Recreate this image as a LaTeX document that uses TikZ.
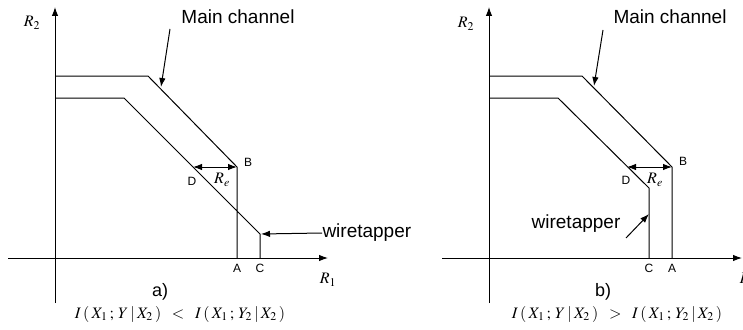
\documentclass[tikz,border=0pt]{standalone}
\usepackage{mathptmx}
\usepackage{fontspec}
\setmainfont{Liberation Sans}
\usetikzlibrary{arrows.meta}

\begin{document}
\begin{tikzpicture}[x=1pt,y=-1pt,line width=1pt,
  >={Latex[length=9pt,width=6.5pt]},
  pt/.style={font=\fontsize{12}{14}\selectfont,inner sep=0pt},
  txt/.style={font=\fontsize{19}{22}\selectfont,inner sep=0pt},
  sym/.style={font=\fontsize{16}{18}\selectfont,inner sep=0pt}]
\useasboundingbox (0,0) rectangle (743,329);

% case a
\scope
\coordinate (o)  at (55,258);
\coordinate (u1) at (55,76);  \coordinate (u2) at (148,76);
\coordinate (b)  at (237,167); \coordinate (a) at (237,258);
\coordinate (l1) at (55,98);  \coordinate (l2) at (124,98);
\coordinate (c1) at (260,234); \coordinate (c) at (260,258);
\coordinate (d)  at (193,167);
\draw[->] (55,303) -- (55,7);
\draw[->] (8,258) -- (328,258);
\draw (u1) -- (u2) -- (b) -- (a)
      (l1) -- (l2) -- (c1) -- (c);
\draw[<->] (d) -- (b);
\node[sym] at (32,23) {$R_2$};
\node[sym] at (328,280) {$R_1$};
\node[pt] at (248,162) {B};
\node[pt] at (192,181) {D};
\node[sym] at (222,180) {$R_e$};
\node[pt] at (237,268) {A};
\node[pt] at (260,268) {C};
\node[txt] (mc) at (238,17) {Main channel};
\coordinate (mct) at (170,29);
\draw[->] (mct) -- (161,87);
\node[txt,anchor=west] (wt) at (322,233) {wiretapper};
\draw[->] (wt.west) -- ([xshift=1pt]c1);
\node[txt,font=\fontsize{18}{20}\selectfont] at (160,292) {a)};
\node[sym] at (180,314) {$I\:(\:X_1\:;\:Y\:|\:X_2\:)\;\;<\;\;I\:(\:X_1\:;\:Y_2\:|\:X_2\:)$};
\endscope

% case b
\scope[xshift=434pt]
\coordinate (o)  at (55,258);
\coordinate (u1) at (55,76);  \coordinate (u2) at (148,76);
\coordinate (b)  at (238,167); \coordinate (a) at (238,258);
\coordinate (l1) at (55,98);  \coordinate (l2) at (124,98);
\coordinate (c1) at (215,188); \coordinate (c) at (215,258);
\coordinate (d)  at (193,167);
\draw[->] (55,303) -- (55,7);
\draw[->] (8,258) -- (308,258);
\draw (u1) -- (u2) -- (b) -- (a)
      (l1) -- (l2) -- (c1) -- (c);
\draw[<->] (d) -- (b);
\node[sym] at (32,24) {$R_2$};
\node[sym] at (314,280) {$R_1$};
\node[pt] at (249,161) {B};
\node[pt] at (192,180) {D};
\node[sym] at (221,180) {$R_e$};
\node[pt] at (238,268) {A};
\node[pt] at (215,268) {C};
\node[txt] (mc) at (236,17) {Main channel};
\coordinate (mct) at (169,30);
\draw[->] (mct) -- (160,86);
\node[txt] (wt) at (142,224) {wiretapper};
\coordinate (wtt) at (192,238);
\draw[->] (wtt) -- (215,214);
\node[txt,font=\fontsize{18}{20}\selectfont] at (169,292) {b)};
\node[sym] at (183,314) {$I\:(\:X_1\:;\:Y\:|\:X_2\:)\;\;>\;\;I\:(\:X_1\:;\:Y_2\:|\:X_2\:)$};
\endscope

\end{tikzpicture}
\end{document}
